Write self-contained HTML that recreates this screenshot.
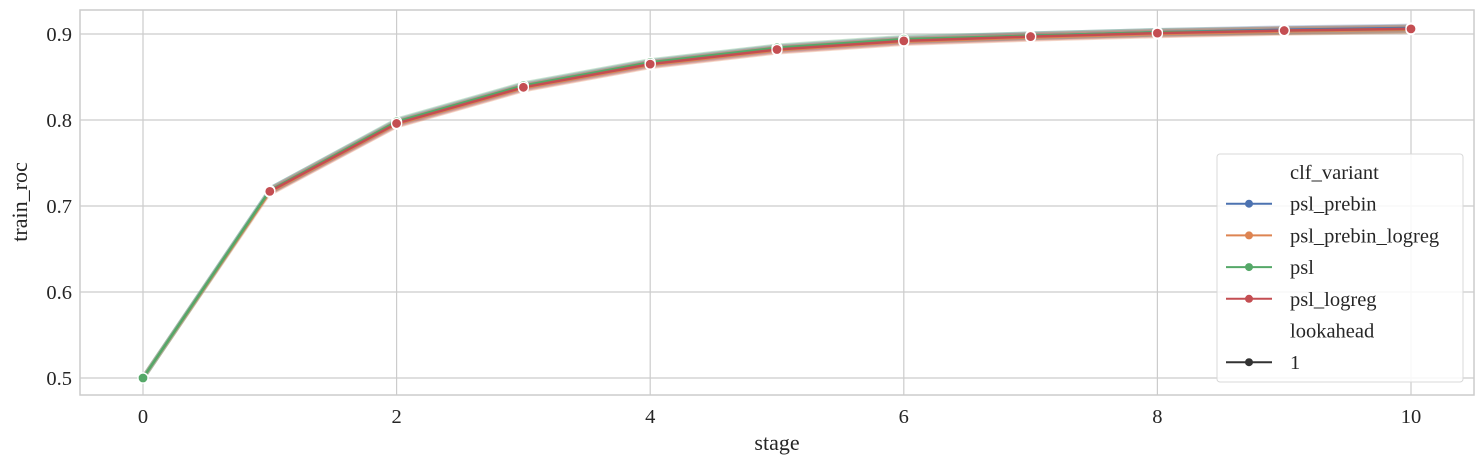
<!DOCTYPE html>
<html><head><meta charset="utf-8"><style>
body{margin:0;background:#fff;}
svg text{font-family:"Liberation Serif",serif;fill:#262626;}
</style></head><body>
<svg id="chart" width="1484" height="466" xmlns="http://www.w3.org/2000/svg"></svg>
<script>
const stages=[0,1,2,3,4,5,6,7,8,9,10];
const pslPrebin=[0.5,0.718,0.797,0.839,0.866,0.883,0.893,0.898,0.902,0.905,0.907];
const pslPrebinLogreg=[0.5,0.716,0.795,0.837,0.864,0.881,0.891,0.896,0.900,0.903,0.905];
const psl=[0.5,0.718,0.798,0.840,0.867,0.884,0.894,0.898,0.902,0.904,0.906];
const pslLogreg=[null,0.717,0.796,0.838,0.865,0.882,0.892,0.897,0.901,0.904,0.906];
const xTicks=[0,2,4,6,8,10];
const yTicks=[0.5,0.6,0.7,0.8,0.9];
const NS="http://www.w3.org/2000/svg";
const svg=document.getElementById('chart');
const L=80,R=1474,T=10,B=395;
const x=v=>143+v*126.8;
const y=v=>378-(v-0.5)*860;
function el(t,a,p){const e=document.createElementNS(NS,t);for(const k in a)e.setAttribute(k,a[k]);(p||svg).appendChild(e);return e;}
const grid=el('g',{});


xTicks.forEach(t=>{
 el('line',{x1:x(t),x2:x(t),y1:T,y2:B,stroke:'#cccccc','stroke-width':1.2},grid);
 const tx=el('text',{x:x(t),y:B+28,'text-anchor':'middle','font-size':20.5});tx.textContent=t;
 
 
});
yTicks.forEach(t=>{
 el('line',{x1:L,x2:R,y1:y(t),y2:y(t),stroke:'#cccccc','stroke-width':1.2},grid);
 const tx=el('text',{x:L-8,y:y(t)+7,'text-anchor':'end','font-size':20.5});tx.textContent=t.toFixed(1);
 
 
});
const frame=el('rect',{x:L,y:T,width:R-L,height:B-T,fill:'none',stroke:'#cccccc','stroke-width':1.5});


const series=[[pslPrebin,'#4c72b0','psl-prebin'],[pslPrebinLogreg,'#dd8452','psl-prebin-logreg'],[psl,'#55a868','psl'],[pslLogreg,'#c44e52','psl-logreg']];
function pts(d,off){return stages.map((s,i)=>d[i]==null?null:[x(s),y(d[i]+off)]).filter(p=>p);}
series.forEach(([d,c,n])=>{
 const up=pts(d,0.005),dn=pts(d,-0.005).reverse();
 const band=el('polygon',{points:up.concat(dn).map(p=>p.join(',')).join(' '),fill:c,opacity:0.3});
 
 
});
series.forEach(([d,c,n])=>{
 const ln=el('polyline',{points:pts(d,0).map(p=>p.join(',')).join(' '),fill:'none',stroke:c,'stroke-width':2.5});
 
 
});
series.forEach(([d,c,n])=>{
 pts(d,0).forEach(p=>{
  const m=el('circle',{cx:p[0],cy:p[1],r:5,fill:c,stroke:'#fff','stroke-width':1.2});
  
  
 });
});
const xl=el('text',{x:777,y:450,'text-anchor':'middle','font-size':22});xl.textContent='stage';


const yl=el('text',{x:27,y:202,'text-anchor':'middle','font-size':22,transform:'rotate(-90 27 202)'});yl.textContent='train_roc';


const lg=el('g',{});


el('rect',{x:1217,y:154,width:246,height:228,rx:3,fill:'#fff','fill-opacity':0.85,stroke:'#d8d8d8','stroke-width':1},lg);
const items=[['clf_variant',null],['psl_prebin','#4c72b0'],['psl_prebin_logreg','#dd8452'],['psl','#55a868'],['psl_logreg','#c44e52'],['lookahead',null],['1','#333333']];
items.forEach(([t,c],i)=>{
 const yy=172+i*31.7;
 if(c){el('line',{x1:1226,x2:1272,y1:yy,y2:yy,stroke:c,'stroke-width':2},lg);el('circle',{cx:1249,cy:yy,r:4,fill:c},lg);}
 const tx=el('text',{x:1290,y:yy+7,'font-size':20.5},lg);tx.textContent=t;
 
 
});
</script>
</body></html>
